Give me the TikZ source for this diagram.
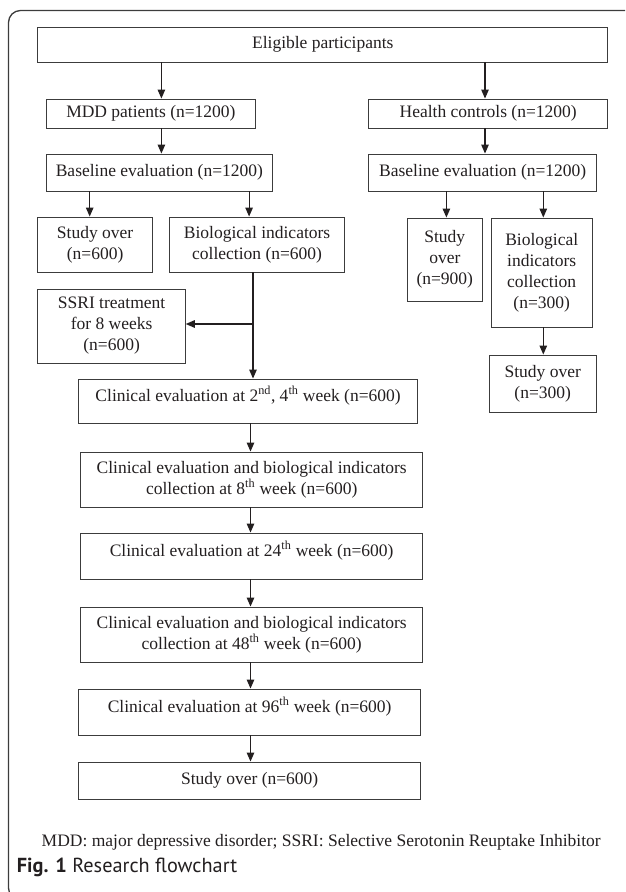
\documentclass[tikz,border=0pt]{standalone}
\usepackage{fontspec}
\setmainfont{Liberation Serif}
\newfontfamily\capfont{PT Sans}
\usepackage{tikz}
\usetikzlibrary{arrows.meta}
\definecolor{ink}{HTML}{231F20}
\definecolor{edge}{HTML}{3C3C3C}
\tikzset{
  box/.style={draw=edge, line width=0.9pt, align=center, inner sep=0pt, text=ink, font=\fontsize{17.5}{21}\selectfont},
  lowbox/.style={box, text height=12pt, text depth=12pt},
  arr/.style={draw=ink, line width=1.2pt, -{Triangle[length=9pt,width=7.5pt]}},
  frame/.style={draw=edge, line width=1.3pt, rounded corners=12pt},
  note/.style={text=ink, font=\fontsize{17.5}{21}\selectfont}
}

\begin{document}
\begin{tikzpicture}[x=1pt, y=-1pt]
  \useasboundingbox (0,0) rectangle (625,892);
  \clip (0,0) rectangle (625,892);
  \draw[frame] (630,10.5) -- (8.5,10.5) -- (8.5,900) -- (40,900);

  % columns of the connectors
  \coordinate (cA) at (161.4,0);
  \coordinate (cB) at (485,0);
  \coordinate (cC) at (89.7,0);
  \coordinate (cD) at (249.1,0);
  \coordinate (cE) at (253,0);
  \coordinate (cF) at (446.4,0);
  \coordinate (cG) at (543.3,0);
  \coordinate (cH) at (250.5,0);
  \coordinate (split) at (253,324);

  \node[box, minimum width=570pt, minimum height=35pt] (elig) at (322.8,44.5) {Eligible participants};
  \node[box, minimum width=208.5pt, minimum height=29pt] (mdd) at (150.9,113.5) {MDD patients (n=1200)};
  \node[box, minimum width=239pt, minimum height=29pt] (health) at (488.2,113.5) {Health controls (n=1200)};
  \node[box, minimum width=225.6pt, minimum height=37pt] (baseL) at (159.4,172.5) {Baseline evaluation (n=1200)};
  \node[box, minimum width=228pt, minimum height=37pt] (baseR) at (482.7,172.5) {Baseline evaluation (n=1200)};
  \node[box, minimum width=114.4pt, minimum height=55pt] (overL) at (95.1,244.5) {Study over\\(n=600)};
  \node[box, minimum width=175.4pt, minimum height=55pt] (bioL) at (257.1,244.5) {Biological indicators\\collection (n=600)};
  \node[box, minimum width=75pt, minimum height=83pt] (overR) at (444.8,259.5) {Study\\over\\(n=900)};
  \node[box, minimum width=100.5pt, minimum height=109pt] (bioR) at (541.7,272.5) {Biological\\indicators\\collection\\(n=300)};
  \node[box, minimum width=106.5pt, minimum height=57pt] (overR2) at (542.7,383.5) {Study over\\(n=300)};
  \node[box, minimum width=147.4pt, minimum height=74pt] (ssri) at (111.6,326) {SSRI treatment\\for 8 weeks\\(n=600)};
  \node[lowbox, minimum width=338.4pt, minimum height=44pt] (clin1) at (248.1,401) {Clinical evaluation at 2\textsuperscript{nd}, 4\textsuperscript{th} week (n=600)};
  \node[box, minimum width=341.6pt, minimum height=55pt] (clin2) at (251.7,479.5) {Clinical evaluation and biological indicators\\collection at 8\textsuperscript{th} week (n=600)};
  \node[lowbox, minimum width=341.6pt, minimum height=46pt] (clin3) at (251.7,556) {Clinical evaluation at 24\textsuperscript{th} week (n=600)};
  \node[box, minimum width=341.6pt, minimum height=55pt] (clin4) at (251.7,634.5) {Clinical evaluation and biological indicators\\collection at 48\textsuperscript{th} week (n=600)};
  \node[lowbox, minimum width=341.6pt, minimum height=46pt] (clin5) at (249.7,712) {Clinical evaluation at 96\textsuperscript{th} week (n=600)};
  \node[box, minimum width=341.6pt, minimum height=37pt] (over) at (249.7,780.5) {Study over (n=600)};

  \draw[arr] (elig.south -| cA) -- (mdd.north -| cA);
  \draw[arr] (elig.south -| cB) -- (health.north -| cB);
  \draw[arr] (mdd.south -| cA) -- (baseL.north -| cA);
  \draw[arr] (health.south -| cB) -- (baseR.north -| cB);
  \draw[arr] (baseL.south -| cC) -- (overL.north -| cC);
  \draw[arr] (baseL.south -| cD) -- (bioL.north -| cD);
  \draw[arr] (baseR.south -| cF) -- (overR.north -| cF);
  \draw[arr] (baseR.south -| cG) -- (bioR.north -| cG);
  \draw[arr] (bioR.south -| cG) -- (overR2.north -| cG);
  \draw[arr] (bioL.south -| cE) -- (clin1.north -| cE);
  \draw[arr] (split) -- (ssri.east |- split);
  \draw[arr] (clin1.south -| cH) -- (clin2.north -| cH);
  \draw[arr] (clin2.south -| cH) -- (clin3.north -| cH);
  \draw[arr] (clin3.south -| cH) -- (clin4.north -| cH);
  \draw[arr] (clin4.south -| cH) -- (clin5.north -| cH);
  \draw[arr] (clin5.south -| cH) -- (over.north -| cH);

  \node[note] (abbr) at (321.2,842) {MDD: major depressive disorder; SSRI: Selective Serotonin Reuptake Inhibitor};
  \node[note, anchor=west, inner sep=0pt, font=\capfont\fontsize{20.3}{24}\selectfont] (cap) at (16.7,867) {\textbf{Fig. 1} Research flowchart};
\end{tikzpicture}
\end{document}
